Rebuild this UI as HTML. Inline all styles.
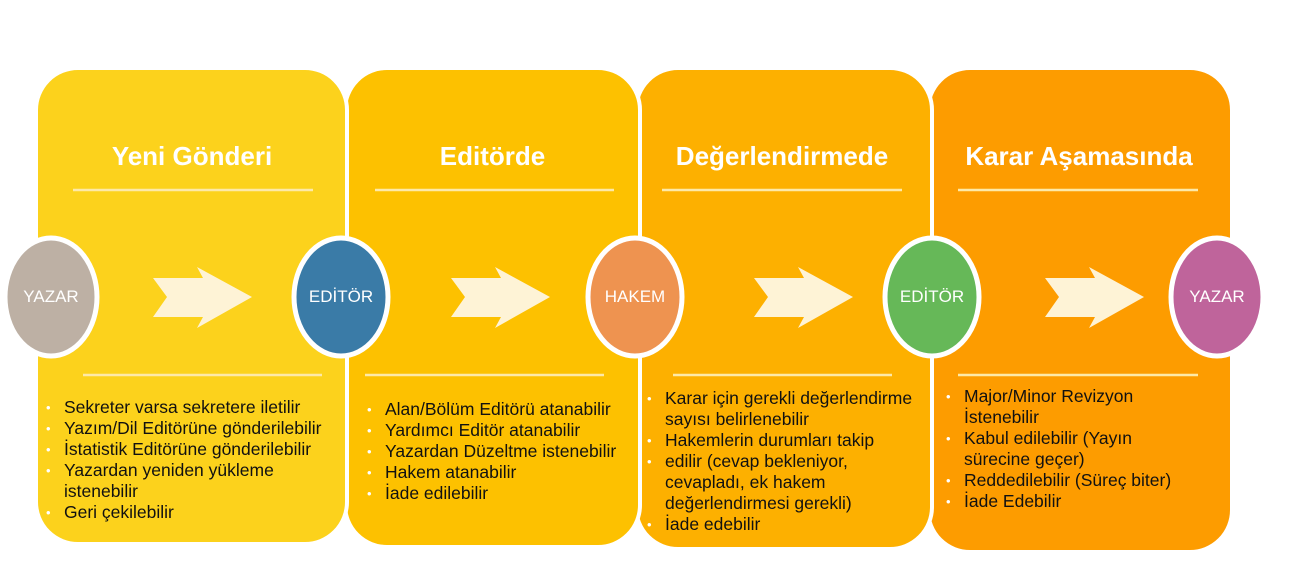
<!DOCTYPE html>
<html><head><meta charset="utf-8"><style>
body{margin:0;width:1291px;height:573px;background:#fff;position:relative;overflow:hidden;font-family:"Liberation Sans",Arial,sans-serif}
.t{position:absolute;color:#fff;font-weight:bold;font-size:26px;text-align:center;top:141px;white-space:nowrap}
.c{position:absolute;color:#fff;font-size:17px;text-align:center;width:100px;top:287px}
ul{position:absolute;margin:0;padding:0;list-style:none;font-size:17.5px;line-height:21px;color:#111}
li{position:relative;padding-left:18px}
li:before{content:"•";position:absolute;left:0;color:#fff;font-size:13px}
</style></head><body>
<svg width="1291" height="573" style="position:absolute;left:0;top:0">
<g stroke="#fff" stroke-width="4">
<rect x="928" y="68" width="304" height="484" rx="42" fill="#FD9C00"/>
<rect x="636" y="68" width="296" height="481" rx="42" fill="#FDB000"/>
<rect x="345" y="68" width="295" height="479" rx="42" fill="#FDC100"/>
<rect x="36" y="68" width="311" height="476" rx="42" fill="#FCD21C"/>
</g>
<g stroke="#FDE9A8" stroke-width="2.5">
<line x1="73" y1="190" x2="313" y2="190"/><line x1="375" y1="190" x2="614" y2="190"/>
<line x1="662" y1="190" x2="902" y2="190"/><line x1="958" y1="190" x2="1198" y2="190"/>
<line x1="83" y1="375" x2="322" y2="375"/><line x1="365" y1="375" x2="604" y2="375"/>
<line x1="673" y1="375" x2="892" y2="375"/><line x1="958" y1="375" x2="1198" y2="375"/>
</g>
<g fill="#FEF3D6">
<path d="M153,278 L203,278 L197,267 L252,297 L197,328 L203,317 L153,317 L167,297Z"/>
<path d="M451,278 L501,278 L495,267 L550,297 L495,328 L501,317 L451,317 L465,297Z"/>
<path d="M754,278 L804,278 L798,267 L853,297 L798,328 L804,317 L754,317 L768,297Z"/>
<path d="M1045,278 L1095,278 L1089,267 L1144,297 L1089,328 L1095,317 L1045,317 L1059,297Z"/>
</g>
<g stroke="#fff" stroke-width="5">
<ellipse cx="51" cy="297" rx="46" ry="59" fill="#BDB0A4"/>
<ellipse cx="341" cy="297" rx="47" ry="59" fill="#3A7BA7"/>
<ellipse cx="635" cy="297" rx="47" ry="59" fill="#EE9350"/>
<ellipse cx="932" cy="297" rx="47" ry="59" fill="#66B858"/>
<ellipse cx="1217" cy="297" rx="46" ry="59" fill="#BF649B"/>
</g>
</svg>
<div class="t" style="left:37px;width:310px">Yeni Gönderi</div>
<div class="t" style="left:345px;width:295px">Editörde</div>
<div class="t" style="left:637px;width:290px">Değerlendirmede</div>
<div class="t" style="left:928px;width:302px">Karar Aşamasında</div>
<div class="c" style="left:1px">YAZAR</div>
<div class="c" style="left:291px">EDİTÖR</div>
<div class="c" style="left:585px">HAKEM</div>
<div class="c" style="left:882px">EDİTÖR</div>
<div class="c" style="left:1167px">YAZAR</div>
<ul style="left:46px;top:397px;width:292px">
<li>Sekreter varsa sekretere iletilir</li><li>Yazım/Dil Editörüne gönderilebilir</li><li>İstatistik Editörüne gönderilebilir</li><li>Yazardan yeniden yükleme istenebilir</li><li>Geri çekilebilir</li></ul>
<ul style="left:367px;top:399px;width:270px">
<li>Alan/Bölüm Editörü atanabilir</li><li>Yardımcı Editör atanabilir</li><li>Yazardan Düzeltme istenebilir</li><li>Hakem atanabilir</li><li>İade edilebilir</li></ul>
<ul style="left:647px;top:388px;width:282px">
<li>Karar için gerekli değerlendirme sayısı belirlenebilir</li><li>Hakemlerin durumları takip</li><li>edilir (cevap bekleniyor, cevapladı, ek hakem değerlendirmesi gerekli)</li><li>İade edebilir</li></ul>
<ul style="left:946px;top:386px;width:252px">
<li>Major/Minor Revizyon İstenebilir</li><li>Kabul edilebilir (Yayın sürecine geçer)</li><li>Reddedilebilir (Süreç biter)</li><li>İade Edebilir</li></ul>
</body></html>
